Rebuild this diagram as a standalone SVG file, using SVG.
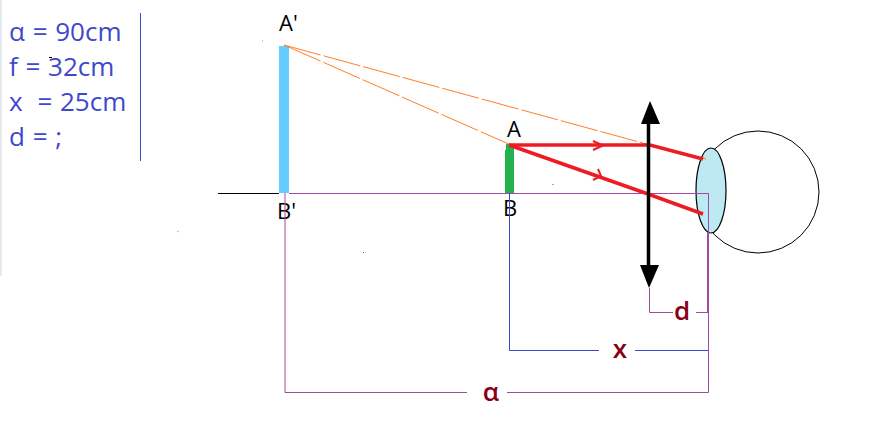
<svg xmlns="http://www.w3.org/2000/svg" width="892" height="425" viewBox="0 0 892 425">
<style>
text{font-family:"Open Sans","Noto Sans","DejaVu Sans",sans-serif}
.given{font-size:26px;fill:#3f48cc;word-spacing:1px}
.pt{font-size:22px;fill:#000}
.dim{font-size:26px;font-weight:600;fill:#880015;text-anchor:middle}
.pu{fill:none;stroke:#a349a4;stroke-width:1}
.bl{fill:none;stroke:#3f48cc;stroke-width:1}
.or{fill:none;stroke:#ff7f27;stroke-width:1}
.rd{fill:none;stroke:#ed1c24;stroke-width:3.500}
.rdh{fill:none;stroke:#ed1c24;stroke-width:2}
</style>
<rect width="892" height="425" fill="#fff"/>
<rect x="0" y="0" width="2" height="276" fill="#e6ebf2"/>
<g id="given">
<text class="given" x="9" y="41">α = 90cm</text>
<text class="given" x="9" y="76">f = 32cm</text>
<text class="given" x="9" y="111">x  <tspan dx="7">= 25cm</tspan></text>
<text class="given" x="9" y="146">d = ;</text>
<path d="M49 57.500H52" fill="none" stroke="#000" stroke-width="1"/>
<path class="bl" d="M140.500 13V161"/>
</g>
<g id="eye">
<circle cx="758" cy="192" r="61" fill="#fff" stroke="#000" stroke-width="1"/>
<ellipse cx="711" cy="190.500" rx="15" ry="42.500" fill="#bce9f2" stroke="#000" stroke-width="1.200"/>
</g>
<g id="image-AB">
<rect x="279" y="46" width="10" height="147" fill="#66ccff"/>
<text class="pt" x="279" y="31">A'</text>
<text class="pt" x="277" y="219">B'</text>
</g>
<g id="object-AB">
<rect x="505" y="150" width="9" height="43" fill="#22b14c"/>
<path d="M506 144H514V150H506Z" fill="#22b14c"/>
<text class="pt" x="507" y="137">A</text>
<text class="pt" x="503" y="216">B</text>
</g>
<g id="connectors">
<path d="M218 193.500H279" fill="none" stroke="#000" stroke-width="1"/>
<path class="pu" d="M289 193.500H708.500"/>
<path class="or" stroke-dasharray="38 3" d="M284 45L650 145L706 159"/>
<path class="or" stroke-dasharray="40 3" d="M284 45L520 149"/>
<path class="or" d="M262 40.500L263 41M177 232L178.500 231"/>
<path class="rd" d="M509 145H650L703 159"/>
<path class="rd" d="M509 145L648 194L703 214"/>
<path class="rdh" d="M593 141L603 145.500L593 150"/>
<path class="rdh" d="M598 169L601 176L593 180"/>
<path class="pu" d="M285 193V392.500H467M507 392.500H708.500V193"/>
<path d="M708 232V312" fill="none" stroke="#a349a4" stroke-width="2"/>
<path class="bl" d="M509.500 193V350.500H599M635 350.500H708"/>
<path class="pu" d="M649.500 288V312.500H673M696 312.500H708"/>
<path d="M552.500 184.500H553.500M363 252.500H364" fill="none" stroke="#3f48cc" stroke-width="1"/>
</g>
<g id="lens">
<path d="M648.500 122V266" fill="none" stroke="#000" stroke-width="3.500"/>
<path d="M650 101L660 124H641Z" fill="#000"/>
<path d="M649 288L659 265H640Z" fill="#000"/>
</g>
<g id="dimension-labels">
<text class="dim" x="682" y="320">d</text>
<text class="dim" x="620" y="358">x</text>
<text class="dim" x="491" y="401">α</text>
</g>
</svg>
